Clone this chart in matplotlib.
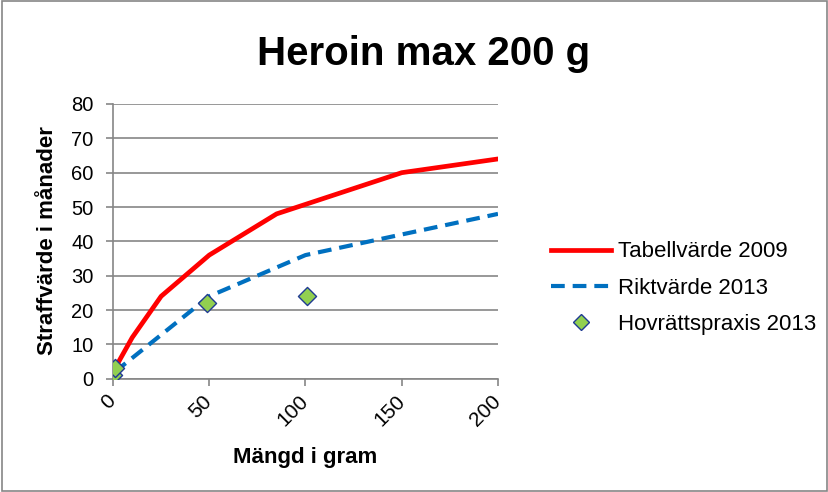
import matplotlib
matplotlib.use("Agg")
import matplotlib.pyplot as plt
from matplotlib.lines import Line2D
from matplotlib.patches import Rectangle

plt.rcParams['font.family'] = ['Liberation Sans', 'DejaVu Sans']

title = "Heroin max 200 g"
xlabel = "Mängd i gram"
ylabel = "Straffvärde i månader"

tabell_x = [1, 10, 25, 50, 85, 150, 200]
tabell_y = [3, 12, 24, 36, 48, 60, 64]

rikt_x = [1, 50, 100, 150, 200]
rikt_y = [2, 24, 36, 42, 48]

hov_x = [0, 1, 49, 101]
hov_y = [1, 3, 22, 24]

xticks = [0, 50, 100, 150, 200]
yticks = [0, 10, 20, 30, 40, 50, 60, 70, 80]

W, H = 829, 492
fig = plt.figure(figsize=(W / 100, H / 100), dpi=100)
ax = fig.add_axes([113/W, 1-378.7/H, (498-113)/W, (378.7-104)/H])

dash = (0, (3.3, 1.9))
ax.plot(tabell_x, tabell_y, color='#ff0000', lw=3.4, solid_capstyle='round', zorder=3)
ax.plot(rikt_x, rikt_y, color='#0070c0', lw=3.0, ls=dash, zorder=3)
ax.scatter(hov_x, hov_y, marker='D', s=85, facecolor='#92d050', edgecolor='#1f3a93', linewidth=1.0, zorder=4)

ax.set_xlim(0, 200)
ax.set_ylim(0, 80)
ax.set_xticks(xticks)
ax.set_yticks(yticks)
ax.set_xticklabels([str(v) for v in xticks], rotation=45, fontsize=15,
                   rotation_mode='anchor', ha='right', va='center')
ax.set_yticklabels([str(v) for v in yticks], fontsize=14.5)
ax.grid(axis='y', color='#868686', lw=1.2)
ax.set_axisbelow(True)
for s in ['top', 'right']:
    ax.spines[s].set_visible(False)
for s in ['left', 'bottom']:
    ax.spines[s].set_color('#868686')
    ax.spines[s].set_linewidth(1.2)
ax.tick_params(axis='both', color='#868686', length=5, width=1.2)
ax.tick_params(axis='y', pad=9)
ax.tick_params(axis='x', pad=9)

fig.text(305/W, 1 - 457/H, xlabel, fontsize=16, fontweight='bold', ha='center', va='center')
fig.text(48/W, 1 - 241/H, ylabel, fontsize=16, fontweight='bold', ha='center', va='center', rotation=90)
fig.text(424/W, 1 - 65/H, title, fontsize=29, fontweight='bold', ha='center', va='baseline')

handles = [
    Line2D([], [], color='#ff0000', lw=3.4),
    Line2D([], [], color='#0070c0', lw=3.0, ls=dash),
    Line2D([], [], marker='D', ls='none', markersize=8.5, markerfacecolor='#92d050', markeredgecolor='#1f3a93'),
]
fig.legend(handles, ['Tabellvärde 2009', 'Riktvärde 2013', 'Hovrättspraxis 2013'],
           loc='center left', bbox_to_anchor=(531/W, 1 - 288/H), frameon=False,
           fontsize=16, handlelength=2.7, labelspacing=0.68, handletextpad=0.3)

fig.add_artist(Rectangle((0.002, 0.003), 0.995, 0.994, transform=fig.transFigure,
                         fill=False, edgecolor='#868686', lw=1.2))

fig.savefig("out.png", dpi=100)
